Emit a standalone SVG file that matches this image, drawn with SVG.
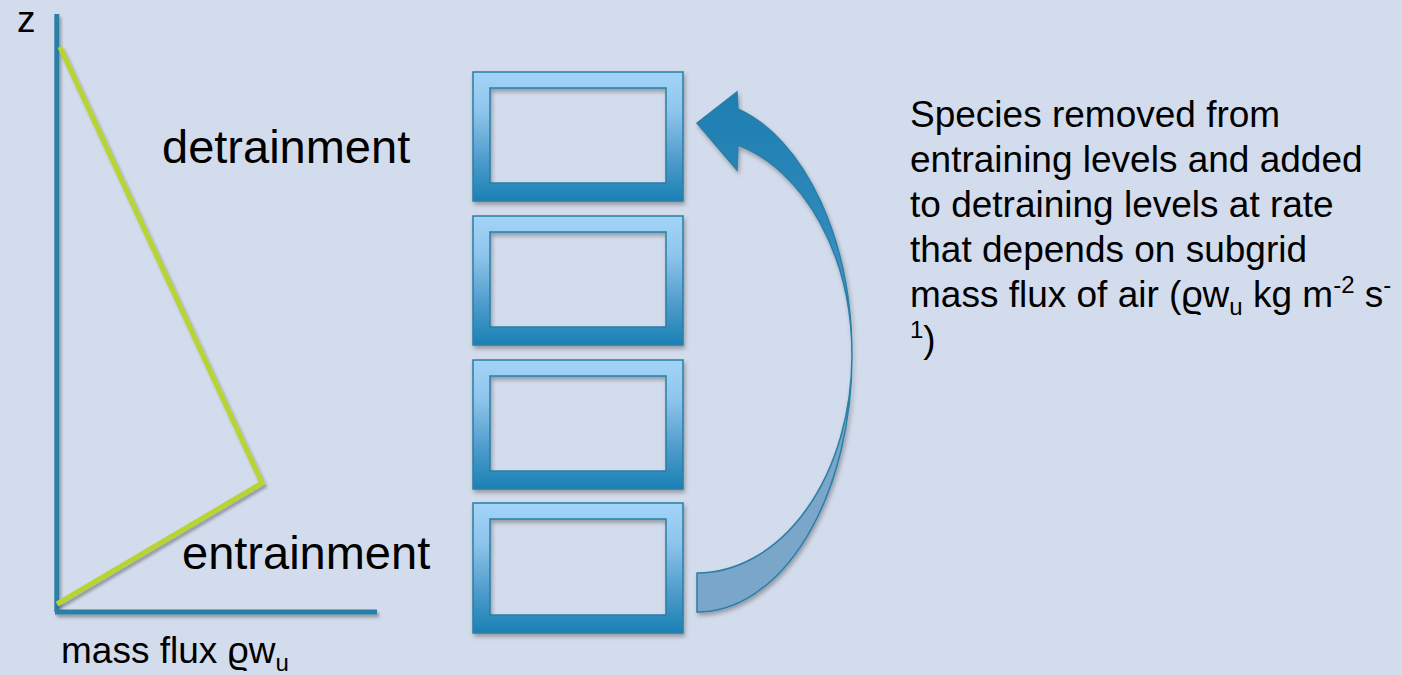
<svg xmlns="http://www.w3.org/2000/svg" width="1402" height="675" viewBox="0 0 1402 675">
  <defs>
    <linearGradient id="frameGrad" x1="0" y1="0" x2="0" y2="1">
      <stop offset="0" stop-color="#a2d4f8"/>
      <stop offset="0.3" stop-color="#8fc5ec"/>
      <stop offset="0.7" stop-color="#4b9aca"/>
      <stop offset="1" stop-color="#1a80b4"/>
    </linearGradient>
    <linearGradient id="arrowGrad" x1="0" y1="0" x2="0" y2="1">
      <stop offset="0" stop-color="#1e7eb1"/>
      <stop offset="0.5" stop-color="#2f89bb"/>
      <stop offset="1" stop-color="#5a9fcc"/>
    </linearGradient>
    <filter id="shadow" filterUnits="userSpaceOnUse" x="0" y="0" width="1402" height="675">
      <feDropShadow dx="1.5" dy="3" stdDeviation="2" flood-color="#000" flood-opacity="0.3"/>
    </filter>
    <filter id="shadowLine" filterUnits="userSpaceOnUse" x="0" y="0" width="1402" height="675">
      <feDropShadow dx="2" dy="3" stdDeviation="1.8" flood-color="#000" flood-opacity="0.3"/>
    </filter>
  </defs>
  <style>
    .txt { font-family: "Liberation Sans", Arial, sans-serif; fill: #000; }
    .big { font-size: 47px; }
    .mid { font-size: 37px; }
    .axis { stroke: #2b7fa6; stroke-width: 5; fill: none; filter: url(#shadowLine); }
    .profile { stroke: #b8d432; stroke-width: 5; fill: none; stroke-linejoin: miter; filter: url(#shadowLine); }
    .frame { fill: url(#frameGrad); fill-rule: evenodd; stroke: #2a7fa6; stroke-width: 1.5; filter: url(#shadow); }
    .arrowFront { fill: url(#arrowGrad); stroke: #2a7fa6; stroke-width: 1.5; filter: url(#shadow); }
    .arrowBack { fill: #7aa6ca; stroke: #2a7fa6; stroke-width: 1.5; filter: url(#shadow); }
  </style>

  <rect x="0" y="0" width="1402" height="675" fill="#d3dcec"/>

  <g id="axes">
    <path class="axis" d="M56.8,14 V612 M55,612 H377"/>
    <text class="txt mid" x="17" y="32">z</text>
    <text class="txt mid" x="61" y="663">mass flux ϱw<tspan font-size="24" dy="8">u</tspan></text>
  </g>

  <g id="profile">
    <polyline class="profile" points="60,47 262,483 57,604"/>
    <text class="txt big" x="162" y="163">detrainment</text>
    <text class="txt big" x="182" y="569">entrainment</text>
  </g>

  <g id="level1">
    <path class="frame" d="M473,72 H683 V201 H473 Z M490,88 V183 H666 V88 Z"/>
  </g>
  <g id="level2">
    <path class="frame" d="M473,216 H683 V345 H473 Z M490,232 V327 H666 V232 Z"/>
  </g>
  <g id="level3">
    <path class="frame" d="M473,360 H683 V489 H473 Z M490,376 V471 H666 V376 Z"/>
  </g>
  <g id="level4">
    <path class="frame" d="M473,503 H683 V633 H473 Z M490,519 V615 H666 V519 Z"/>
  </g>

  <g id="connectors">
    <path class="arrowBack" d="M697,612 A155,256 0 0 0 852,356 A155,218 0 0 1 697,573 Z"/>
    <path class="arrowFront" d="M852,356 A155,256 0 0 0 738,109 L737,92 L697,123 L737,170 L738,145 A155,218 0 0 1 852,355 Z"/>
  </g>

  <g id="description">
    <text class="txt mid" x="910" y="127">Species removed from</text>
    <text class="txt mid" x="910" y="172">entraining levels and added</text>
    <text class="txt mid" x="910" y="217">to detraining levels at rate</text>
    <text class="txt mid" x="910" y="262">that depends on subgrid</text>
    <text class="txt mid" x="910" y="307">mass flux of air (ϱw<tspan font-size="24" dy="8">u</tspan><tspan dy="-8"> kg m</tspan><tspan font-size="24" dy="-14">-2</tspan><tspan dy="14"> s</tspan><tspan font-size="24" dy="-14">-</tspan></text>
    <text class="txt mid" x="910" y="352"><tspan font-size="24" dy="-14">1</tspan><tspan dy="14">)</tspan></text>
  </g>
</svg>
